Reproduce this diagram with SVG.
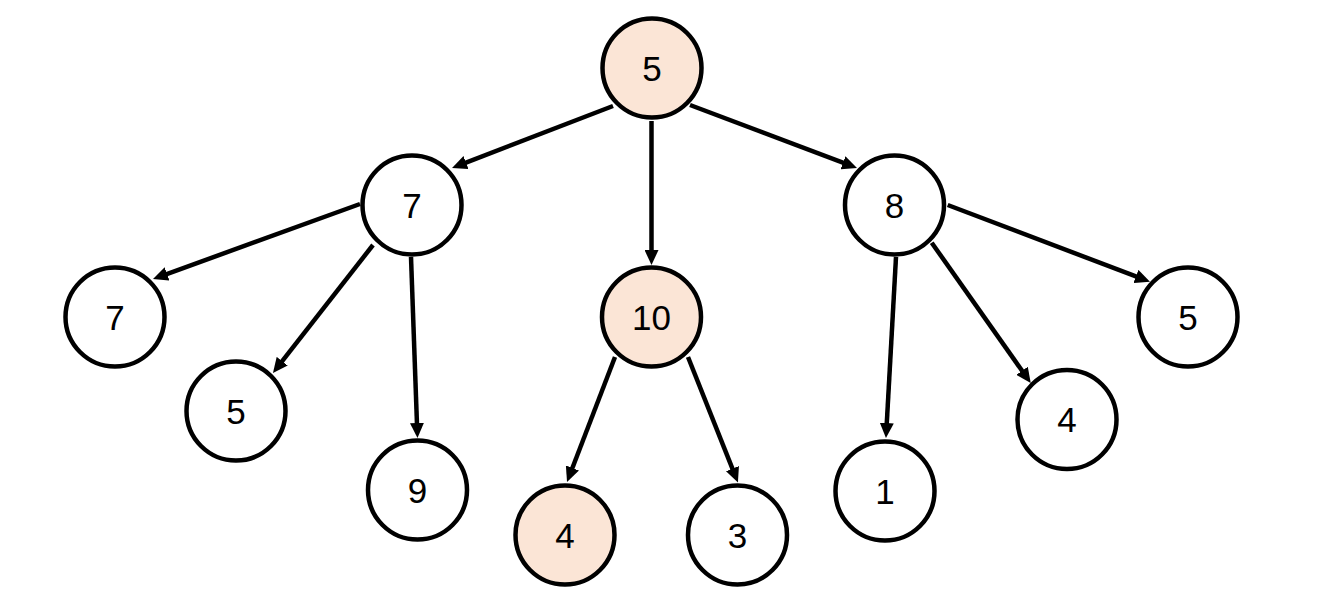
<svg xmlns="http://www.w3.org/2000/svg" width="1336" height="608" viewBox="0 0 1336 608">
<style>
.n circle{fill:#ffffff;stroke:#000000;stroke-width:4.5}
.n.h circle{fill:#fbe5d6}
.n text{font-family:"Liberation Sans",Arial,sans-serif;font-size:35px;fill:#000000;text-anchor:middle}
#edges line{stroke:#000000;stroke-width:4.5;marker-end:url(#arr)}
</style>
<defs>
<marker id="arr" markerUnits="userSpaceOnUse" markerWidth="15" markerHeight="14" refX="7" refY="7" orient="auto">
<path d="M0,0 L15,7 L0,14 z" fill="#000000"/>
</marker>
</defs>
<rect width="1336" height="608" fill="#ffffff"/>
<g id="edges">
<line x1="613" y1="106" x2="459.5" y2="165.1"/>
<line x1="651.5" y1="121" x2="651.5" y2="257"/>
<line x1="690" y1="105" x2="849.5" y2="165.2"/>
<line x1="360" y1="204" x2="160.5" y2="276.3"/>
<line x1="373" y1="245" x2="277.9" y2="366.7"/>
<line x1="411" y1="257" x2="417.2" y2="430"/>
<line x1="896" y1="257" x2="886.4" y2="430"/>
<line x1="931.7" y1="242.7" x2="1026.1" y2="376.5"/>
<line x1="947.7" y1="205" x2="1142.5" y2="278.9"/>
<line x1="615" y1="357" x2="569.9" y2="474.5"/>
<line x1="688" y1="357" x2="735" y2="475.1"/>
</g>
<g id="n-root" class="n h"><circle cx="652" cy="68" r="49.5"/><text x="652" y="80.5">5</text></g>
<g id="n-7" class="n"><circle cx="412" cy="205" r="49.5"/><text x="412" y="217.5">7</text></g>
<g id="n-8" class="n"><circle cx="894.5" cy="205" r="49.5"/><text x="894.5" y="217.5">8</text></g>
<g id="n-10" class="n h"><circle cx="651.5" cy="317" r="49.5"/><text x="651.5" y="329.5">10</text></g>
<g id="n-7b" class="n"><circle cx="115" cy="317" r="49.5"/><text x="115" y="329.5">7</text></g>
<g id="n-5b" class="n"><circle cx="236" cy="411" r="49.5"/><text x="236" y="423.5">5</text></g>
<g id="n-9" class="n"><circle cx="417.5" cy="490" r="49.5"/><text x="417.5" y="502.5">9</text></g>
<g id="n-4b" class="n h"><circle cx="565" cy="535" r="49.5"/><text x="565" y="547.5">4</text></g>
<g id="n-3" class="n"><circle cx="737.5" cy="535" r="49.5"/><text x="737.5" y="547.5">3</text></g>
<g id="n-1" class="n"><circle cx="885" cy="491" r="49.5"/><text x="885" y="503.5">1</text></g>
<g id="n-4c" class="n"><circle cx="1067" cy="419.5" r="49.5"/><text x="1067" y="432">4</text></g>
<g id="n-5c" class="n"><circle cx="1188" cy="317" r="49.5"/><text x="1188" y="329.5">5</text></g>
</svg>
